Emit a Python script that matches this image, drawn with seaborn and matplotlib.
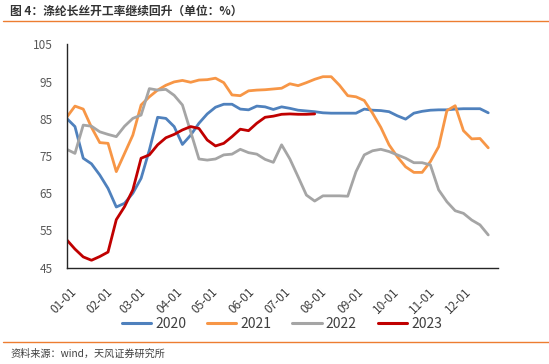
import numpy as np
import pandas as pd
import matplotlib
matplotlib.use("Agg")
import matplotlib.pyplot as plt
import matplotlib.dates as mdates
import matplotlib.transforms as mtransforms
from matplotlib.ticker import FixedLocator, FixedFormatter
from matplotlib.lines import Line2D
import seaborn as sns

# ---------------- data (weekly readings) ----------------
v2020 = [85.1, 82.9, 74.4, 72.9, 69.9, 66.3, 61.3, 62.3, 65.0, 69.0, 76.6, 85.4, 85.1,
         82.9, 78.1, 80.6, 83.8, 86.3, 88.1, 88.9, 88.9, 87.6, 87.4, 88.4, 88.2, 87.5,
         88.2, 87.8, 87.3, 87.1, 86.9, 86.6, 86.5, 86.5, 86.5, 86.5, 87.6, 87.3, 87.2,
         86.9, 85.8, 84.9, 86.5, 87.0, 87.3, 87.4, 87.4, 87.6, 87.7, 87.7, 87.7, 86.6]
v2021 = [85.4, 88.4, 87.6, 82.7, 78.6, 78.4, 70.8, 75.7, 80.6, 88.7, 90.9, 92.7, 94.0,
         94.9, 95.3, 94.8, 95.4, 95.5, 95.9, 94.7, 91.4, 91.2, 92.5, 92.7, 92.8, 93.0,
         93.2, 94.4, 93.9, 94.7, 95.6, 96.3, 96.3, 94.0, 91.2, 90.9, 89.9, 86.5, 82.7,
         78.0, 74.8, 72.1, 70.6, 70.6, 73.5, 77.5, 87.2, 88.5, 81.8, 79.6, 79.7, 77.2]
v2022 = [76.8, 75.7, 83.3, 83.0, 81.5, 80.8, 80.2, 83.0, 85.1, 86.0, 93.1, 92.7, 92.9,
         91.3, 88.7, 81.5, 74.2, 73.9, 74.2, 75.3, 75.5, 76.8, 75.9, 75.5, 74.1, 73.3,
         78.0, 74.2, 69.4, 64.5, 62.9, 64.3, 64.3, 64.3, 64.2, 70.8, 75.3, 76.4, 76.8,
         76.2, 75.3, 74.4, 73.2, 73.2, 72.6, 65.9, 62.7, 60.3, 59.6, 57.8, 56.5, 53.8]
v2023 = [52.5, 50.0, 47.9, 47.0, 48.0, 49.2, 57.9, 61.4, 65.9, 74.4, 75.3, 78.0, 79.9,
         80.8, 82.0, 82.9, 82.4, 79.3, 77.7, 78.4, 80.2, 82.2, 81.8, 83.8, 85.4, 85.7,
         86.2, 86.3, 86.2, 86.2, 86.3]

series_names = ["2020", "2021", "2022", "2023"]
series_vals = [v2020, v2021, v2022, v2023]
colors = ["#4F81BD", "#F79646", "#A5A5A5", "#C00000"]
month_labels = ["01-01", "02-01", "03-01", "04-01", "05-01", "06-01",
                "07-01", "08-01", "09-01", "10-01", "11-01", "12-01"]
y_ticks = [45, 55, 65, 75, 85, 95, 105]

title = "图 4：涤纶长丝开工率继续回升（单位：%）"
source = "资料来源：wind，天风证券研究所"

# ---------------- build long table ----------------
frames = []
for name, vals in zip(series_names, series_vals):
    d = pd.date_range("2021-01-01", periods=len(vals), freq="7D")
    frames.append(pd.DataFrame({"date": d, "value": vals, "year": name}))
df = pd.concat(frames, ignore_index=True)

sns.set_style("white")
plt.rcParams["font.family"] = ["Noto Sans CJK SC", "DejaVu Sans"]

fig = plt.figure(figsize=(5.49, 3.64), dpi=100)
ax = fig.add_axes([66.7 / 549, 1 - 267.7 / 364, (497.7 - 66.7) / 549, (267.7 - 44.3) / 364])

sns.lineplot(data=df, x="date", y="value", hue="year", palette=colors,
             linewidth=2.0, ax=ax, legend=False, sort=False)

x0 = pd.Timestamp("2021-01-01")
x1 = pd.Timestamp("2022-01-01")
ax.set_xlim(x0, x1)
ax.set_ylim(45, 105)

tick_dates = [pd.Timestamp(f"2021-{m:02d}-01") for m in range(1, 13)] + [x1]
ax.xaxis.set_major_locator(FixedLocator(mdates.date2num(tick_dates)))
ax.xaxis.set_major_formatter(FixedFormatter(month_labels + [""]))
ax.set_yticks(y_ticks)

ax.set_xlabel("")
ax.set_ylabel("")
for s in ["top", "right"]:
    ax.spines[s].set_visible(False)
for s in ["left", "bottom"]:
    ax.spines[s].set_color("#262626")
    ax.spines[s].set_linewidth(1.0)

ax.tick_params(axis="both", direction="in", length=4, width=1, color="#262626")
ax.tick_params(axis="y", labelsize=8.5, labelcolor="#595959", pad=10)
ax.tick_params(axis="x", labelsize=8.5, labelcolor="#404040", pad=13)
offset = mtransforms.ScaledTranslation(3 / 100, 0, fig.dpi_scale_trans)
for lab in ax.get_xticklabels():
    lab.set_rotation(45)
    lab.set_ha("right")
    lab.set_va("top")
    lab.set_rotation_mode("anchor")
    lab.set_transform(lab.get_transform() + offset)

handles = [Line2D([0], [0], color=c, lw=2.2) for c in colors]
leg = fig.legend(handles, series_names, loc="center", ncol=4, frameon=False,
                 bbox_to_anchor=(282 / 549, 1 - 324 / 364), fontsize=10,
                 handlelength=2.1, columnspacing=1.5, handletextpad=0.3)
for t in leg.get_texts():
    t.set_color("#404040")

fig.text(10 / 549, 1 - 11.5 / 364, title, fontsize=8.5, fontweight="bold",
         color="#333333", va="center", ha="left")
fig.add_artist(Line2D([3 / 549, 1], [1 - 21 / 364, 1 - 21 / 364], color="#ED7D31", lw=1.0))
fig.add_artist(Line2D([3 / 549, 1], [1 - 342 / 364, 1 - 342 / 364], color="#ED7D31", lw=1.0))
fig.text(10 / 549, 1 - 353.5 / 364, source, fontsize=7.3, color="#404040",
         va="center", ha="left")

fig.savefig("out.png", dpi=100)
